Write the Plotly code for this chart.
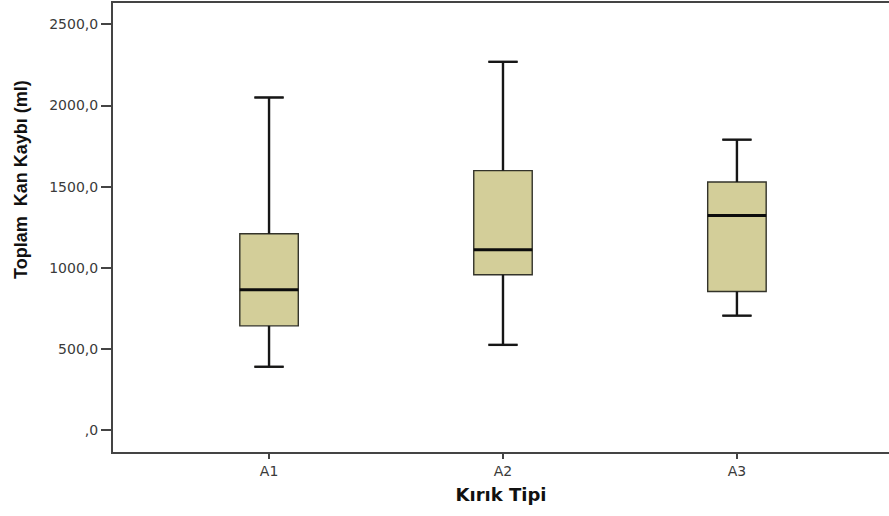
import plotly.graph_objects as go

categories = ["A1", "A2", "A3"]
positions = [0, 1, 2]
lower_whisker = [390, 525, 705]
q1_values = [642, 957, 854]
median_values = [864, 1111, 1323]
q3_values = [1210, 1599, 1529]
upper_whisker = [2050, 2270, 1790]
y_tick_values = [0, 500, 1000, 1500, 2000, 2500]
y_tick_labels = [",0", "500,0", "1000,0", "1500,0", "2000,0", "2500,0"]

BOX_W = 0.25
FILL = "#D3CE99"
DARK = "#161616"

fig = go.Figure()

fig.add_trace(go.Box(
    x=positions,
    q1=q1_values, median=median_values, q3=q3_values,
    lowerfence=lower_whisker, upperfence=upper_whisker,
    width=BOX_W, whiskerwidth=0.5,
    fillcolor=FILL,
    line=dict(color="#33332a", width=1.4),
    boxpoints=False, showlegend=False, hoverinfo="skip",
))

# whiskers and caps (thicker, black) and median line
for i, p in enumerate(positions):
    fig.add_trace(go.Scatter(
        x=[p, p, None, p, p, None, p - BOX_W / 4, p + BOX_W / 4, None, p - BOX_W / 4, p + BOX_W / 4],
        y=[q3_values[i], upper_whisker[i], None, q1_values[i], lower_whisker[i], None,
           upper_whisker[i], upper_whisker[i], None, lower_whisker[i], lower_whisker[i]],
        mode="lines", line=dict(color=DARK, width=2.4),
        showlegend=False, hoverinfo="skip",
    ))
    fig.add_trace(go.Scatter(
        x=[p - BOX_W / 2, p + BOX_W / 2],
        y=[median_values[i], median_values[i]],
        mode="lines", line=dict(color="#0c0c0c", width=3),
        showlegend=False, hoverinfo="skip",
    ))

fig.update_layout(
    width=889, height=516,
    margin=dict(l=113, r=0, t=3, b=64),
    paper_bgcolor="white", plot_bgcolor="white",
    font=dict(family="DejaVu Sans, sans-serif", color="#333333"),
    xaxis=dict(
        range=[-0.667, 2.65],
        tickmode="array", tickvals=positions, ticktext=categories,
        ticks="outside", ticklen=5, tickwidth=1.5, tickcolor="#444444",
        showline=True, linecolor="#444444", linewidth=2, mirror=True,
        showgrid=False, zeroline=False,
        tickfont=dict(size=14, color="#3a3a3a"),
        title=dict(text="<b>Kırık Tipi</b>", font=dict(family="DejaVu Sans", size=18, color="#111111"), standoff=11),
    ),
    yaxis=dict(
        range=[-135.6, 2632.5],
        tickmode="array", tickvals=y_tick_values, ticktext=y_tick_labels,
        ticks="outside", ticklen=10, tickwidth=1.5, tickcolor="#444444",
        showline=True, linecolor="#444444", linewidth=2, mirror=False,
        showgrid=False, zeroline=False,
        tickfont=dict(size=14, color="#3a3a3a"),
    ),
)

fig.add_annotation(
    text="<b>Toplam  Kan Kaybı (ml)</b>",
    xref="paper", yref="paper", x=0, y=0.606,
    xanchor="center", yanchor="middle", xshift=-92,
    textangle=-90, showarrow=False,
    font=dict(family="Liberation Sans, Arial, sans-serif", size=18, color="#111111"),
)

fig.write_html("out.html", config={"displayModeBar": False},
               post_script="document.body.style.margin='0';")
